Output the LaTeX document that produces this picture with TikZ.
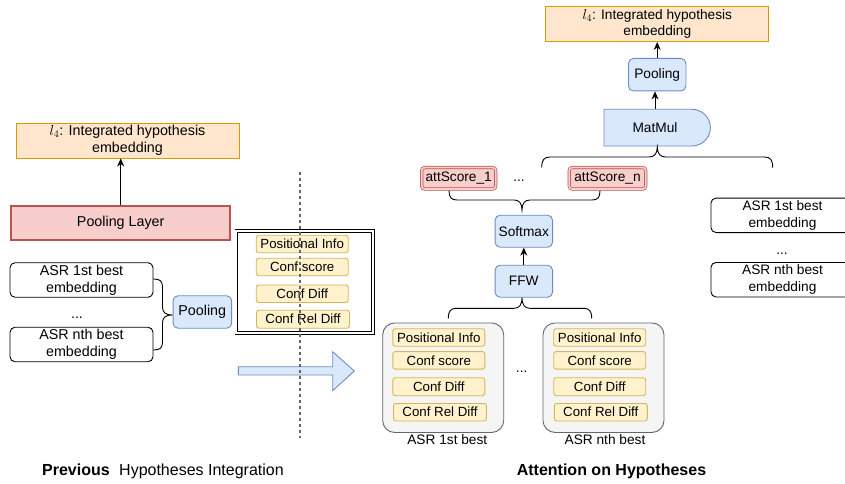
\documentclass[tikz,border=0pt]{standalone}
\usepackage{fontspec}
\setmainfont{Liberation Sans}
\usetikzlibrary{arrows.meta}
\definecolor{oF}{HTML}{FFE6CC}\definecolor{oS}{HTML}{D79B00}
\definecolor{rF}{HTML}{F8CECC}\definecolor{rS}{HTML}{B85450}
\definecolor{bF}{HTML}{DAE8FC}\definecolor{bS}{HTML}{6C8EBF}
\definecolor{yF}{HTML}{FFF2CC}\definecolor{yS}{HTML}{D6B656}
\definecolor{gF}{HTML}{F5F5F5}\definecolor{gS}{HTML}{666666}
\tikzset{
  base/.style={inner sep=0pt, align=center, font=\fontsize{13.7}{16.5}\selectfont},
  bigtxt/.style={font=\fontsize{14.3}{17}\selectfont},
  smalltxt/.style={font=\fontsize{13.3}{16}\selectfont},
  orangebox/.style={base, draw=oS, fill=oF, line width=0.9pt},
  redbox/.style={base, draw=rS, fill=rF, line width=1.8pt},
  redbl/.style={base, draw=rS, fill=rF, rounded corners=3pt, line width=0.7pt, double=rF, double distance=1.8pt},
  bluebox/.style={base, draw=bS, fill=bF, rounded corners=5pt, line width=0.9pt},
  yelbox/.style={base, smalltxt, draw=yS, fill=yF, rounded corners=2.5pt, line width=0.9pt, minimum width=92pt, minimum height=17.5pt},
  graybox/.style={base, draw=gS, fill=gF, rounded corners=12pt, line width=0.9pt},
  plainbox/.style={base, bigtxt, draw=black, rounded corners=5pt, line width=0.9pt, minimum width=143pt, minimum height=34.5pt},
  txt/.style={base},
  arr/.style={-{Stealth[length=8pt,width=7pt]}, line width=0.9pt},
  bracesty/.style={line width=0.9pt, draw=black},
}
\begin{document}
\begin{tikzpicture}[x=1pt,y=-1pt]
\fill[white] (0,0) rectangle (845,484);
\useasboundingbox (0,0) rectangle (845,484);

% ---------------- left part ----------------
\node[orangebox, bigtxt, minimum width=223pt, minimum height=35pt] (l4L) at (127.5,140.5) {$l_4$: Integrated hypothesis\\embedding};
\node[redbox, bigtxt, minimum width=219pt, minimum height=34pt] (poolLayer) at (120.7,223.2) {Pooling Layer};
\draw[arr] (poolLayer.north) -- (poolLayer.north |- l4L.south);

\node[plainbox] (asr1L) at (81.5,280) {ASR 1st best\\embedding};
\node[txt, bigtxt] (dotsL) at (77,318) {...};
\node[plainbox] (asrnL) at (81.5,344.5) {ASR nth best\\embedding};
\node[bluebox, bigtxt, minimum width=58.5pt, minimum height=32.5pt] (poolS) at (202.3,312) {Pooling};

\draw[bracesty] (153.3,279) .. controls (160,279) and (162.5,281) .. (162.5,287) -- (162.5,307)
  .. controls (162.5,312) and (165,315) .. (172.5,315)
  .. controls (165,315) and (162.5,318) .. (162.5,323) -- (162.5,342)
  .. controls (162.5,348) and (160,350) .. (153.3,350);

\node[base, draw=black, fill=white, double=white, double distance=2pt, line width=0.8pt, minimum width=136.5pt, minimum height=101.5pt] (featL) at (304.7,282) {};
\node[yelbox] (fL1) at (302.2,244) {Positional Info};
\node[yelbox] (fL2) at (302.2,267) {Conf score};
\node[yelbox] (fL3) at (302.2,293.7) {Conf Diff};
\node[yelbox, minimum width=93pt, minimum height=18pt] (fL4) at (303,319.2) {Conf Rel Diff};

% big arrow
\draw[draw=bS, fill=bF, line width=0.9pt] (238.3,366.7) -- (332.7,366.7) -- (332.7,351.7) -- (354.3,371)
  -- (332.7,390.7) -- (332.7,375) -- (238.3,375) -- cycle;

% ---------------- right part ----------------
\node[orangebox, minimum width=223pt, minimum height=35.5pt] (l4R) at (657.3,23.8) {$l_4$: Integrated hypothesis\\embedding};
\node[bluebox, minimum width=57.5pt, minimum height=32.5pt] (poolR) at (657.2,74.7) {Pooling};
\node[txt, minimum width=106pt, minimum height=36.5pt] (matmul) at (655,127.65) {MatMul};
\draw[draw=bS, fill=bF, line width=0.9pt] (604,109.3) -- (692,109.3)
  .. controls (702.1,109.3) and (710.35,117.5) .. (710.35,127.65)
  .. controls (710.35,137.8) and (702.1,146) .. (692,146) -- (604,146) -- cycle;
\node[txt] at (matmul.center) {MatMul};
\draw[arr] (poolR.north) -- (poolR.north |- l4R.south);
\draw[arr] (matmul.north) -- (matmul.north |- poolR.south);

\draw[bracesty] (541.7,167.7) .. controls (541.7,160) and (544,157) .. (550,157) -- (649,157)
  .. controls (654,157) and (657.3,154) .. (657.3,147)
  .. controls (657.3,154) and (660.6,157) .. (665.6,157) -- (764.4,157)
  .. controls (770.4,157) and (772.7,160) .. (772.7,167.7);

\node[redbl, minimum width=74pt, minimum height=21.5pt] (att1) at (458.7,178.3) {attScore\_1};
\node[txt] (dotsA) at (519,181) {...};
\node[redbl, minimum width=76.5pt, minimum height=21.5pt] (attn) at (607.5,178.3) {attScore\_n};

\draw[bracesty] (449,190.7) .. controls (449,197.5) and (451.5,200) .. (457,200) -- (514,200)
  .. controls (519,200) and (522,203) .. (522,210)
  .. controls (522,203) and (525,200) .. (530,200) -- (592,200)
  .. controls (597.5,200) and (600,197.5) .. (600,190.7);

\node[bluebox, minimum width=57.5pt, minimum height=32pt] (softmax) at (523.8,231.2) {Softmax};
\node[bluebox, minimum width=57.5pt, minimum height=32pt] (ffw) at (523.8,281.2) {FFW};
\draw[arr] (ffw.north) -- (softmax.south);

\draw[bracesty] (448.3,318.3) .. controls (448.3,311) and (450.8,308.3) .. (456.3,308.3) -- (514,308.3)
  .. controls (519,308.3) and (522,305.3) .. (522,297.5)
  .. controls (522,305.3) and (525,308.3) .. (530,308.3) -- (583.7,308.3)
  .. controls (589.2,308.3) and (591.7,311) .. (591.7,318.3);

\node[graybox, minimum width=121pt, minimum height=109.5pt] (g1) at (443.2,377.7) {};
\node[yelbox] (g1a) at (438.8,337.5) {Positional Info};
\node[yelbox] (g1b) at (438.8,360.3) {Conf score};
\node[yelbox, minimum height=18pt] (g1c) at (438.8,386.7) {Conf Diff};
\node[yelbox, minimum width=93pt] (g1d) at (440,412.2) {Conf Rel Diff};
\node[txt] (g1lab) at (447.3,439.3) {ASR 1st best};

\node[txt] (dotsM) at (521.7,372) {...};

\node[graybox, minimum width=121pt, minimum height=109.5pt] (g2) at (603.5,377.7) {};
\node[yelbox] (g2a) at (599.7,337.5) {Positional Info};
\node[yelbox] (g2b) at (599.7,360.3) {Conf score};
\node[yelbox, minimum height=18pt] (g2c) at (599.7,386.7) {Conf Diff};
\node[yelbox, minimum width=93pt] (g2d) at (600.8,412.2) {Conf Rel Diff};
\node[txt] (g2lab) at (605,439.3) {ASR nth best};

\node[plainbox, font=\fontsize{13.7}{16.5}\selectfont] (asr1R) at (782.5,215.3) {ASR 1st best\\embedding};
\node[txt] (dotsR) at (782,254) {...};
\node[plainbox, font=\fontsize{13.7}{16.5}\selectfont] (asrnR) at (782.5,279.7) {ASR nth best\\embedding};

% dashed separator
\draw[draw=gS, line width=1.1pt, dash pattern=on 3pt off 3pt] (300,171.7) -- (300,438.3);

% bottom captions
\node[txt, anchor=base west, font=\fontsize{16}{19}\selectfont\bfseries] (capPrev) at (42,475) {Previous};
\node[txt, anchor=base west, font=\fontsize{16}{19}\selectfont] (capHyp) at (119,475) {Hypotheses Integration};
\node[txt, anchor=base, font=\fontsize{16}{19}\selectfont\bfseries] (capAtt) at (611.5,475) {Attention on Hypotheses};
\end{tikzpicture}
\end{document}
